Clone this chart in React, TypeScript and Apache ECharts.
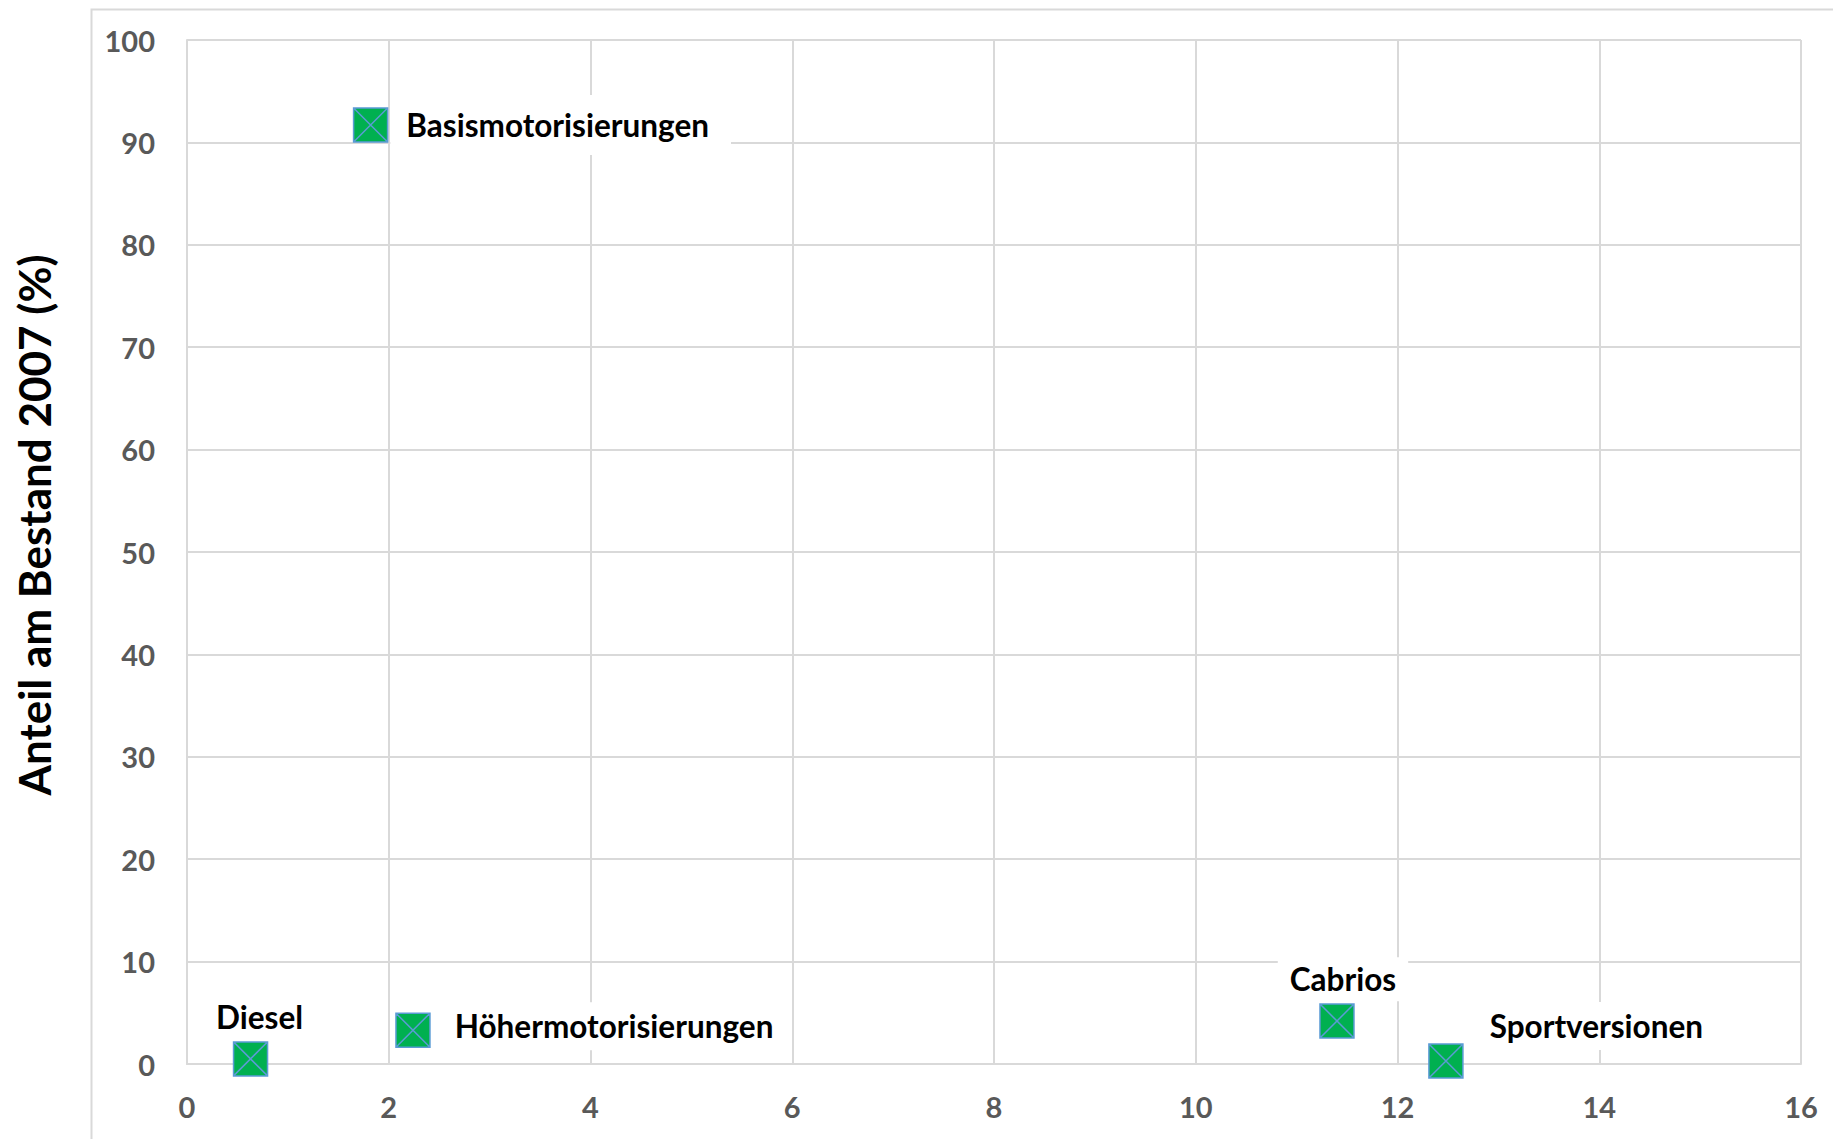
import React, { useEffect, useRef } from "react";
import * as echarts from "echarts";

const names = ["Diesel", "Basismotorisierungen", "Höhermotorisierungen", "Cabrios", "Sportversionen"];
const xValues = [0.63, 1.82, 2.24, 11.4, 12.48];
const yValues = [0.5, 91.7, 3.3, 4.2, 0.3];
const yTitle = "Anteil am Bestand 2007 (%)";

const FONT = "Lato";
const labelStyles: any[] = [
  { position: "top", distance: 4, offset: [9, 0], padding: [4, 6, 4, 6] },
  { position: "right", distance: 2, offset: [0, 0], padding: [14, 22, 14, 16] },
  { position: "right", distance: 4, offset: [0, -4], padding: [8, 10, 8, 20] },
  { position: "top", distance: 2, offset: [6, 0], padding: [6, 12, 6, 12] },
  { position: "right", distance: 4, offset: [0, -35], padding: [8, 10, 8, 22] },
];

export default function App() {
  const ref = useRef<HTMLDivElement>(null);
  useEffect(() => {
    document.body.style.margin = "0";
    const chart = echarts.init(ref.current!, null, { renderer: "svg" });
    const data = names.map((n, i) => ({
      name: n,
      value: [xValues[i], yValues[i]],
      label: {
        show: true,
        formatter: n,
        color: "#000",
        fontFamily: FONT,
        fontWeight: "bold",
        fontSize: 31.5,
        backgroundColor: "#fff",
        ...labelStyles[i],
      },
    }));
    chart.setOption({
      animation: false,
      backgroundColor: "#fff",
      graphic: [
        {
          type: "rect",
          left: 89,
          top: 7,
          shape: { width: 1800, height: 1200 },
          style: { fill: "none", stroke: "#D9D9D9", lineWidth: 2 },
          z: -10,
        },
        {
          type: "text",
          x: 34,
          y: 525,
          rotation: Math.PI / 2,
          style: {
            text: yTitle,
            fontFamily: FONT,
            fontWeight: "bold",
            fontSize: 44,
            fill: "#000",
            textAlign: "center",
            textVerticalAlign: "middle",
          },
        },
      ],
      grid: { left: 187, top: 40, right: 32, bottom: 75 },
      xAxis: {
        type: "value",
        min: 0,
        max: 16,
        interval: 2,
        axisLine: { show: true, lineStyle: { color: "#D9D9D9", width: 2 } },
        axisTick: { show: false },
        splitLine: { show: true, lineStyle: { color: "#D9D9D9", width: 2 } },
        axisLabel: { color: "#595959", fontFamily: FONT, fontWeight: "bold", fontSize: 29, margin: 28 },
      },
      yAxis: {
        type: "value",
        min: 0,
        max: 100,
        interval: 10,
        axisLine: { show: true, lineStyle: { color: "#D9D9D9", width: 2 } },
        axisTick: { show: false },
        splitLine: { show: true, lineStyle: { color: "#D9D9D9", width: 2 } },
        axisLabel: { color: "#595959", fontFamily: FONT, fontWeight: "bold", fontSize: 29, margin: 32 },
      },
      series: [
        {
          type: "scatter",
          symbol: "path://M0 0H10V10H0Z M0 0L10 10 M10 0L0 10",
          symbolSize: 34,
          itemStyle: { color: "#00B050", borderColor: "#5B9BD5", borderWidth: 1.5, opacity: 1 },
          data,
          z: 5,
        },
      ],
    });
    return () => chart.dispose();
  }, []);
  return <div ref={ref} style={{ position: "fixed", left: 0, top: 0, width: 1833, height: 1139 }} />;
}
